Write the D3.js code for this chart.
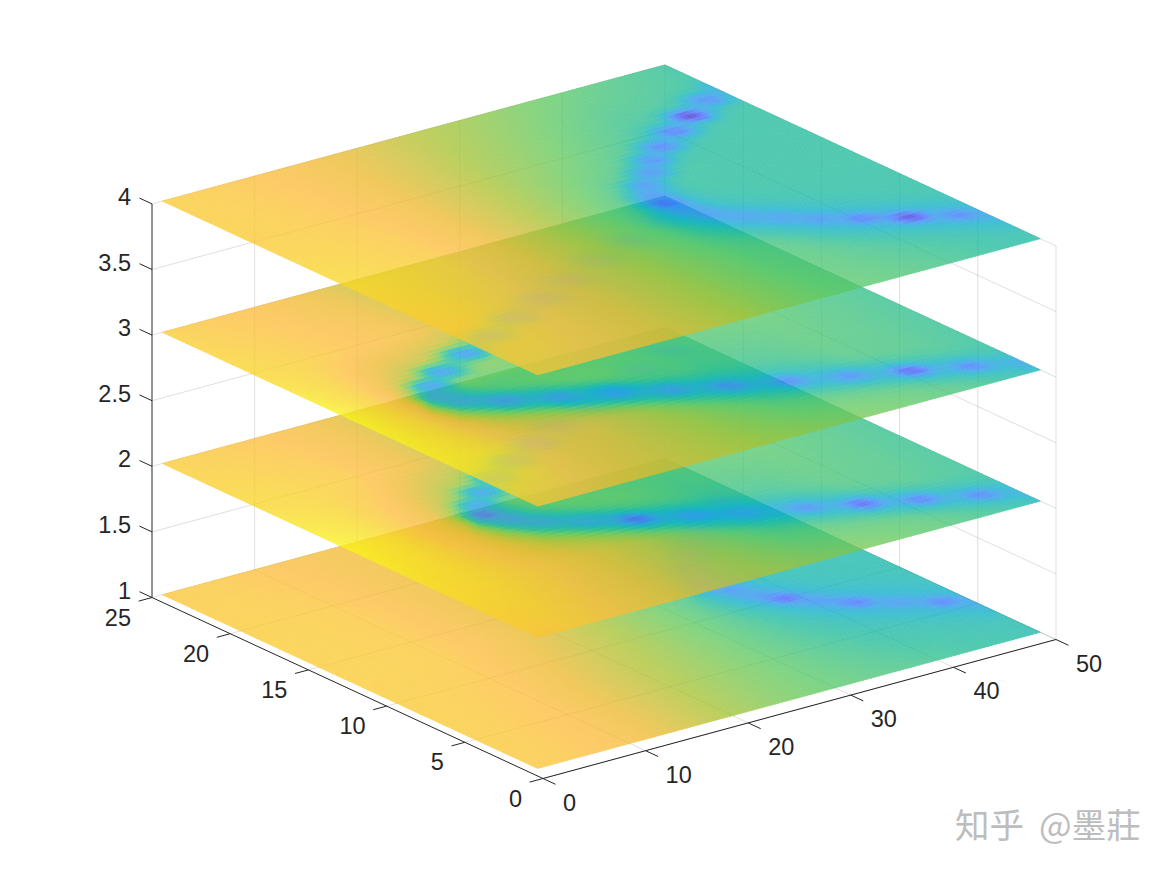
<!DOCTYPE html>
<html>
<head>
<meta charset="utf-8">
<style>
html,body{margin:0;padding:0;background:#fff}
svg{display:block}
text{font-family:"Liberation Sans",Helvetica,Arial,sans-serif;fill:#262626}
</style>
<script src="https://cdn.jsdelivr.net/npm/d3@7"></script>
</head>
<body>
<svg id="chart" width="1167" height="875"></svg>
<script>
// ---- tick labels
const xTicks = [0,10,20,30,40,50];
const yTicks = [0,5,10,15,20,25];
const zTicks = [1,1.5,2,2.5,3,3.5,4];
const zLabels = ["1","1.5","2","2.5","3","3.5","4"];

// ---- colormap stops
const cmapStops = [0,.1,.2,.3,.4,.5,.6,.7,.8,.85,.9,1];
const cmapColors = ["#3e26a8","#4747eb","#3e6fff","#2796eb","#0baec9","#1fbb9b","#5ec962","#a8c233","#edb92e","#fdbd3c","#f9d22a","#f9fb15"];

// ---- sampled field: knots, then one row per y knot, one value per x knot
const xKnots = [1,5,10,15,20,25,30,35,40,45,50];
const yKnots = [1,7,13,19,25];
const field1 = [
 [.87,.86,.83,.77,.69,.63,.59,.56,.53,.50,.47],
 [.88,.87,.85,.79,.72,.66,.59,.52,.46,.45,.46],
 [.88,.88,.87,.83,.77,.69,.60,.50,.47,.47,.47],
 [.88,.88,.87,.83,.79,.73,.67,.59,.50,.46,.46],
 [.87,.87,.85,.83,.81,.77,.71,.65,.59,.54,.50]];
const field2 = [
 [.87,.87,.84,.80,.74,.70,.66,.62,.58,.54,.50],
 [.93,.91,.86,.80,.74,.64,.52,.52,.56,.55,.52],
 [.99,.93,.80,.60,.58,.58,.58,.59,.59,.56,.53],
 [.91,.90,.88,.82,.74,.64,.54,.52,.55,.54,.52],
 [.88,.87,.85,.82,.76,.70,.64,.60,.55,.52,.50]];
const field3 = [
 [.87,.85,.80,.76,.72,.68,.65,.62,.58,.54,.50],
 [.96,.92,.84,.80,.72,.62,.52,.52,.56,.55,.52],
 [.99,.88,.66,.58,.58,.58,.58,.59,.59,.56,.53],
 [.91,.89,.86,.83,.76,.64,.54,.52,.55,.54,.52],
 [.88,.86,.84,.80,.74,.68,.62,.58,.54,.52,.50]];
const field4 = [
 [.87,.86,.83,.78,.72,.65,.60,.58,.55,.51,.48],
 [.88,.88,.85,.80,.73,.65,.58,.55,.50,.49,.49],
 [.92,.90,.88,.82,.73,.63,.52,.50,.50,.50,.50],
 [.88,.88,.86,.82,.75,.68,.62,.56,.50,.50,.50],
 [.88,.87,.85,.82,.78,.72,.68,.63,.59,.55,.51]];

// ---- low-value spots along each slice's trough: [x, y, value]
const spots1 = [[52,22,.34],[51,21,.34],[48.1,20,.3],[45.3,19,.33],[42.7,18,.3],[40.6,17,.33],[38.9,16,.3],[37.5,15,.33],[36.65,14,.33],[36,13,.32],[36.65,12,.27],[37.5,11,.29],[38.9,10,.16],[40.6,9,.27],[42.7,8,.19],[45.3,7,.28],[48.1,6,.21],[51,5,.3]];
const spots2 = [[51.5,24,.33],[47.2,23,.3],[42.9,22,.3],[38.8,21,.3],[34.8,20,.3],[30.3,19,.33],[26.7,18,.33],[22.8,17,.33],[19.5,16,.33],[16.9,15,.31],[15,14,.33],[14,13,.2],[15,12,.3],[16.7,11,.33],[19.5,10,.33],[22.8,9,.17],[26.7,8,.3],[30.3,7,.31],[34.8,6,.25],[38.8,5,.14],[42.9,4,.2],[47.2,3,.22],[51.5,2,.3]];
const spots3 = [[50,24,.32],[46.25,23,.32],[42,22,.3],[37.5,21,.32],[33,20,.32],[28.9,19,.33],[24.6,18,.33],[20.8,17,.34],[16.9,16,.28],[13,15,.29],[10.45,14,.3],[9.5,13,.33],[10.45,12,.33],[13.1,11,.27],[16.9,10,.29],[20.8,9,.3],[24.75,8,.29],[28.8,7,.25],[33.1,6,.23],[37.5,5,.25],[42,4,.12],[46.25,3,.22],[50.5,2,.3]];
const spots4 = [[51.5,22,.3],[48,21,.24],[44.8,20,.05],[41.8,19,.2],[38.9,18,.22],[36.6,17,.25],[34.9,16,.26],[32.9,15,.27],[32,14,.28],[31.7,13,.17],[32,12,.27],[32.9,11,.28],[34.7,10,.29],[36.9,9,.29],[39,8,.27],[41.8,7,.2],[44.9,6,.07],[48.2,5,.22],[51.5,4,.3]];

const layerLevels = [1,2,3,4];
const layerFields = [field1,field2,field3,field4];
const layerSpots = [spots1,spots2,spots3,spots4];
// trough floor of each slice on the low-y arm and on the high-y arm
const haloLow = [.37,.395,.395,.365];
const haloHigh = [.48,.52,.52,.365];
const haloWidth = [15,12,12,15];

// ---- oblique projection, one linear scale per screen contribution
const xToSx = d3.scaleLinear().domain([0,50]).range([0,513]);
const yToSx = d3.scaleLinear().domain([0,25]).range([0,-391]);
const xToSy = d3.scaleLinear().domain([0,50]).range([0,-139]);
const yToSy = d3.scaleLinear().domain([0,25]).range([0,-181]);
const zToSy = d3.scaleLinear().domain([1,4]).range([0,-393.6]);
const originX = 543, originY = 778.5;
const P = (x,y,z) => [originX + xToSx(x) + yToSx(y), originY + xToSy(x) + yToSy(y) + zToSy(z)];

const color = d3.scaleLinear().domain(cmapStops).range(cmapColors).clamp(true);
const xIndex = d3.scaleLinear().domain(xKnots).range(xKnots.map((_,i)=>i)).clamp(true);
const yIndex = d3.scaleLinear().domain(yKnots).range(yKnots.map((_,i)=>i)).clamp(true);
const armMix = d3.scaleLinear().domain([13,15.5]).range([0,1]).clamp(true);

function baseValue(f,x,y){
  const u = xIndex(x), v = yIndex(y);
  const i = Math.min(Math.floor(u), xKnots.length-2), j = Math.min(Math.floor(v), yKnots.length-2);
  const a = u-i, b = v-j;
  return (1-b)*((1-a)*f[j][i]+a*f[j][i+1]) + b*((1-a)*f[j+1][i]+a*f[j+1][i+1]);
}
function segDist(px,py,a,b){
  const dx=b[0]-a[0], dy=b[1]-a[1];
  const t=Math.max(0,Math.min(1,((px-a[0])*dx+(py-a[1])*dy)/(dx*dx+dy*dy)));
  return Math.hypot(px-a[0]-t*dx, py-a[1]-t*dy);
}
const SPOT_W=21, SPOT_H=5.5;
function sliceValue(k,x,y){
  const z=layerLevels[k], pts=layerSpots[k].map(s=>P(s[0],s[1],z));
  const [sx,sy]=P(x,y,z);
  let v=baseValue(layerFields[k],x,y), d=1e9;
  for(let i=0;i<pts.length-1;i++) d=Math.min(d,segDist(sx,sy,pts[i],pts[i+1]));
  const r=d/haloWidth[k], w=Math.exp(-r*r);
  const m=armMix(y), floor=haloLow[k]*(1-m)+haloHigh[k]*m;
  v=v*(1-w)+floor*w;
  layerSpots[k].forEach((s,i)=>{
    const ex=(sx-pts[i][0])/SPOT_W, ey=(sy-pts[i][1])/SPOT_H;
    const b=Math.exp(-(ex*ex+ey*ey));
    if(s[2]<v) v=v*(1-b)+s[2]*b;
  });
  return v;
}

const svg = d3.select("#chart");
const line = d3.line();
const gridG = svg.append("g").attr("fill","none").attr("stroke","#262626").attr("stroke-opacity",.15).attr("stroke-width",1);
const addGrid = d => gridG.append("path").attr("d",line(d));

zTicks.forEach(z => addGrid([P(0,25,z),P(50,25,z),P(50,0,z)]));
xTicks.slice(1).forEach(x => { addGrid([P(x,25,1),P(x,25,4)]); addGrid([P(x,0,1),P(x,25,1)]); });
yTicks.slice(0,-1).forEach(y => { addGrid([P(50,y,1),P(50,y,4)]); addGrid([P(0,y,1),P(50,y,1)]); });

// ---- slices
const NX=125, NY=64;
const cols=d3.range(NX).map(i=>1+49*i/NX), rows=d3.range(NY).map(j=>1+24*j/NY);
const dX=49/NX, dY=24/NY;
layerLevels.forEach((z,k)=>{
  const cells=[];
  rows.forEach(y=>cols.forEach(x=>cells.push({x,y,c:color(sliceValue(k,x+dX/2,y+dY/2))})));
  svg.append("g").attr("opacity",.78).attr("stroke-width",.7)
    .selectAll("polygon").data(cells).join("polygon")
    .attr("points",d=>[P(d.x,d.y,z),P(d.x+dX,d.y,z),P(d.x+dX,d.y+dY,z),P(d.x,d.y+dY,z)].map(p=>p[0].toFixed(2)+","+p[1].toFixed(2)).join(" "))
    .attr("fill",d=>d.c).attr("stroke",d=>d.c).attr("stroke-linejoin","round");
});

// ---- axes
const axisG = svg.append("g").attr("fill","none").attr("stroke","#262626").attr("stroke-width",1);
const addAxis = d => axisG.append("path").attr("d",line(d));
addAxis([P(0,0,1),P(50,0,1)]);
addAxis([P(0,0,1),P(0,25,1)]);
addAxis([P(0,25,1),P(0,25,4)]);
xTicks.forEach(x => addAxis([P(x,0,1),P(x,-.8,1)]));
yTicks.forEach(y => addAxis([P(0,y,1),P(-1.3,y,1)]));
zTicks.forEach(z => addAxis([P(0,25,z),P(0,25.8,z)]));

const label = (txt,x,y,anchor) => svg.append("text").attr("x",x).attr("y",y).attr("text-anchor",anchor).attr("dominant-baseline","central").attr("font-size",23.5).text(txt);
xTicks.forEach(x => { const p=P(x,0,1); label(x,p[0]+20,p[1]+24,"start"); });
yTicks.forEach(y => { const p=P(0,y,1); label(y,p[0]-21,p[1]+20,"end"); });
zTicks.forEach((z,i) => { const p=P(0,25,z); label(zLabels[i],p[0]-21,p[1]-7,"end"); });

// ---- watermark
const mark = (t,x) => svg.append("text").attr("x",x).attr("y",838).attr("font-size",34.5)
  .style("font-family",'"Noto Sans CJK SC","Noto Sans",sans-serif').style("fill","#bdbdbd").text(t);
mark("知乎",955); mark("@墨莊",1039);
</script>
</body>
</html>
